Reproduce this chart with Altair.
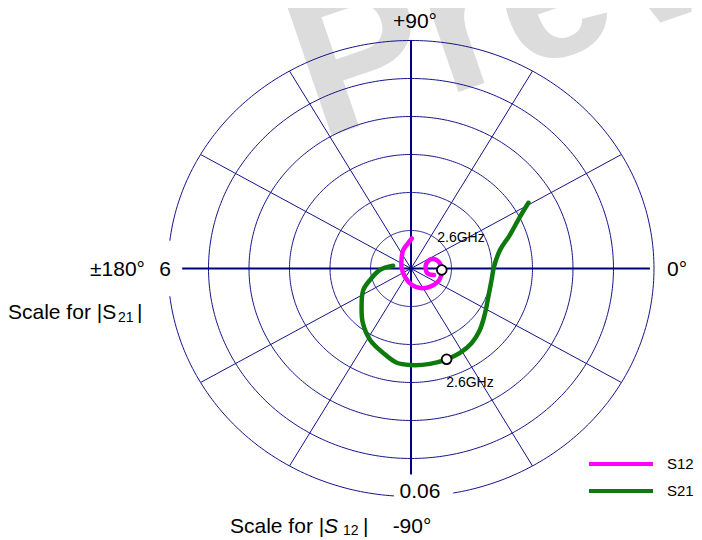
import altair as alt
import pandas as pd

# ---------------- data ----------------
# S21: real / imaginary parts, in |S21| units (outer ring = 6)
s21_re = [2.90, 2.69, 2.44, 2.20, 2.05, 1.99, 1.91, 1.83, 1.70, 1.50, 1.21, 0.88,
          0.47, -0.02, -0.35, -0.69, -1.01, -1.19, -1.22, -1.18, -1.01, -0.77, -0.44]
s21_im = [1.73, 1.36, 0.88, 0.49, 0.05, -0.30, -0.74, -1.17, -1.62, -1.96, -2.22, -2.39,
          -2.51, -2.54, -2.48, -2.22, -1.88, -1.43, -1.01, -0.57, -0.30, -0.04, 0.07]
# S12: real / imaginary parts, in |S12| units (outer ring = 0.06)
s12_re = [0.0002, -0.0007, -0.0019, -0.0023, -0.0023, -0.0015, 0.0002, 0.0026, 0.0051,
          0.0070, 0.0076, 0.0069, 0.0054, 0.0040, 0.0036, 0.0042, 0.0057]
s12_im = [0.0079, 0.0067, 0.0049, 0.0028, 0.0001, -0.0022, -0.0043, -0.0052, -0.0046,
          -0.0030, -0.0004, 0.0017, 0.0025, 0.0017, 0.0001, -0.0014, -0.0017]
s21_marker_idx = 11   # 2.6 GHz point
s12_marker_idx = 10   # 2.6 GHz point
series_names = ["S12", "S21"]
series_colors = ["#ff00ff", "#0e7a0e"]
s21_full_scale = 6
s12_full_scale = 0.06

ring_radii = [1, 2, 3, 4, 5, 6]
spoke_angles = [30, 60, 120, 150, 210, 240, 300, 330]
axis_angles = [0, 90, 180, 270]
axis_lengths = [5.9, 6.0, 5.65, 5.42]

# ---------------- tables ----------------
rows = []
for i, (re, im) in enumerate(zip(s21_re, s21_im)):
    rows.append({"series": "S21", "idx": i, "re": re, "im": im})
for i, (re, im) in enumerate(zip(s12_re, s12_im)):
    rows.append({"series": "S12", "idx": i, "re": re, "im": im})
curves = pd.DataFrame(rows)

ring_rows = []
for r in ring_radii:
    if r == ring_radii[-1]:
        segs = [(187, 266), (280, 533)]   # gaps for the "6" and "0.06" labels
    else:
        segs = [(0, 360)]
    for s, (a0, a1) in enumerate(segs):
        for d in range(a0, a1 + 1):
            ring_rows.append({"ring": f"{r}-{s}", "r": r, "deg": d})
rings = pd.DataFrame(ring_rows)

spokes = pd.DataFrame({"deg": spoke_angles, "len": [ring_radii[-1]] * len(spoke_angles)})
axes_df = pd.DataFrame({"deg": axis_angles, "len": axis_lengths})

W, H = 686, 532
xs = alt.Scale(domain=[-9.951, 6.988], nice=False, zero=False)
ys = alt.Scale(domain=[-7.145, 6.855], nice=False, zero=False)
grid_col = "#14148a"
FONT = "Liberation Sans"


def X(f):
    return alt.X(f, type="quantitative", scale=xs, axis=None)


def Y(f):
    return alt.Y(f, type="quantitative", scale=ys, axis=None)


# watermark
watermark = alt.Chart(pd.DataFrame({"t": ["Preview"]})).mark_text(
    angle=341, fontSize=200, fontWeight="bold", color="#dcdcdc",
    align="left", baseline="alphabetic", font=FONT
).encode(x=alt.value(311), y=alt.value(132), text="t:N")

ring_layer = alt.Chart(rings).transform_calculate(
    x="datum.r*cos(datum.deg*PI/180)", y="datum.r*sin(datum.deg*PI/180)"
).mark_line(color=grid_col, strokeWidth=1).encode(
    x=X("x"), y=Y("y"), detail="ring:N", order="deg:Q")

spoke_layer = alt.Chart(spokes).transform_calculate(
    x0="0", y0="0",
    x1="datum.len*cos(datum.deg*PI/180)", y1="datum.len*sin(datum.deg*PI/180)"
).mark_rule(color=grid_col, strokeWidth=1).encode(
    x=X("x0"), y=Y("y0"), x2="x1:Q", y2="y1:Q")

axis_layer = alt.Chart(axes_df).transform_calculate(
    x0="0", y0="0",
    x1="datum.len*cos(datum.deg*PI/180)", y1="datum.len*sin(datum.deg*PI/180)"
).mark_rule(color="#000080", strokeWidth=2).encode(
    x=X("x0"), y=Y("y0"), x2="x1:Q", y2="y1:Q")

k = s21_full_scale / s12_full_scale
curve_calc = dict(
    px=f"datum.series=='S12' ? datum.re*{k} : datum.re",
    py=f"datum.series=='S12' ? datum.im*{k} : datum.im",
)
color = alt.Color("series:N", scale=alt.Scale(domain=series_names, range=series_colors), legend=None)

curve_layer = alt.Chart(curves).transform_calculate(**curve_calc).mark_line(
    strokeWidth=4.5, interpolate="catmull-rom", strokeCap="round", strokeJoin="round"
).encode(x=X("px"), y=Y("py"), color=color, detail="series:N", order="idx:Q")

marker_layer = alt.Chart(curves).transform_calculate(**curve_calc).transform_filter(
    f"(datum.series=='S21' && datum.idx=={s21_marker_idx}) || (datum.series=='S12' && datum.idx=={s12_marker_idx})"
).mark_point(filled=True, fill="white", stroke="black", strokeWidth=1.8, size=95, shape="circle", opacity=1
).encode(x=X("px"), y=Y("py"))


def label(text, x, y, size=21, align="center", italic=False):
    kw = dict(fontSize=size, align=align, baseline="middle", font=FONT, color="black")
    if italic:
        kw["fontStyle"] = "italic"
    return alt.Chart(pd.DataFrame({"t": [text]})).mark_text(**kw).encode(
        x=alt.value(x), y=alt.value(y), text="t:N")


labels = [
    label("+90°", 407, 14),
    label("±180°", 137, 262, align="right"),
    label("6", 157, 262),
    label("0°", 659, 262, align="left"),
    label("Scale for |S", 0, 305, align="left"),
    label("21", 110, 310, size=14, align="left"),
    label("|", 129, 305, align="left"),
    label("0.06", 412, 484),
    label("Scale for |", 222, 519, align="left"),
    label("S", 316, 519, align="left", italic=True),
    label("12", 335, 523, size=14, align="left"),
    label("|", 355, 519, align="left"),
    label("-90°", 404, 519),
    label("2.6GHz", 453, 230, size=14),
    label("2.6GHz", 462, 375, size=14),
]

legend_rules = [
    alt.Chart(pd.DataFrame({"series": [name]})).mark_rule(strokeWidth=4).encode(
        x=alt.value(581), x2=alt.value(645), y=alt.value(yv), color=color)
    for name, yv in zip(series_names, [456, 483])
]
legend_labels = [label(name, 659, yv, size=15, align="left")
                 for name, yv in zip(series_names, [456, 483])]

chart = alt.layer(
    watermark, ring_layer, spoke_layer, axis_layer, curve_layer, marker_layer,
    *labels, *legend_rules, *legend_labels
).properties(
    width=W, height=H, autosize=alt.AutoSizeParams(type="none"), padding=0
).configure_view(strokeWidth=0)

chart.save("out.html", embed_options={"renderer": "svg", "actions": False})
